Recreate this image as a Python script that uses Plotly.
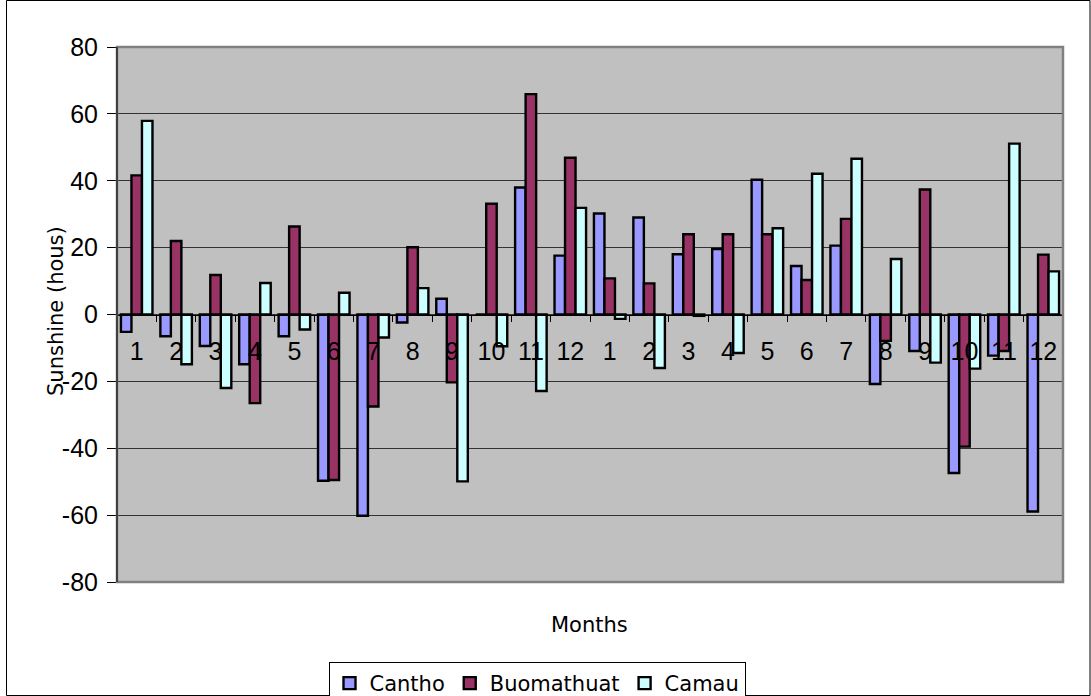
import plotly.graph_objects as go

months = [str(m) for m in range(1, 13)] * 2
x_pos = list(range(1, 25))
cantho = [-5.2, -6.5, -9.4, -14.9, -6.5, -49.7, -60.2, -2.4, 4.7, 0.0, 38.0, 17.6,
          30.2, 29.0, 18.0, 19.6, 40.3, 14.5, 20.6, -20.8, -10.9, -47.4, -12.3, -58.9]
buomathuat = [41.6, 22.0, 11.8, -26.5, 26.3, -49.5, -27.5, 20.1, -20.3, 33.1, 65.9, 46.9,
              10.8, 9.3, 24.0, 24.0, 24.0, 10.3, 28.6, -7.9, 37.4, -39.5, -10.9, 17.9]
camau = [57.9, -14.9, -22.0, 9.4, -4.5, 6.5, -6.9, 7.9, -49.9, -9.5, -22.9, 31.9,
         -1.3, -16.0, -0.4, -11.5, 25.8, 42.1, 46.6, 16.6, -14.4, -16.2, 51.1, 12.9]
y_ticks = [-80, -60, -40, -20, 0, 20, 40, 60, 80]
y_tick_text = ["-80", "-60", "-40", "-20", "0", "20", "40", "60", "80"]
series = [("Cantho", cantho, "#9999FF"), ("Buomathuat", buomathuat, "#993366"), ("Camau", camau, "#CCFFFF")]

TICKFONT = dict(family="Liberation Sans, Arial", size=25, color="black")
TEXTFONT = dict(family="DejaVu Sans", size=21, color="black")

fig = go.Figure()
for name, vals, col in series:
    fig.add_trace(go.Bar(x=x_pos, y=vals, name=name,
                         marker=dict(color=col, line=dict(color="black", width=2.4))))
# helper trace carrying the category-label axis
fig.add_trace(go.Scatter(x=x_pos, y=[0] * len(x_pos), xaxis="x2", mode="none",
                         showlegend=False, hoverinfo="skip"))

boundaries = [i + 0.5 for i in range(0, 25)]
L, R, T, B = 117, 1063, 47, 582
W, H = 1091, 696
pw, ph = R - L, B - T

fig.update_layout(
    width=W, height=H,
    margin=dict(l=L, r=W - R, t=T, b=H - B, autoexpand=False),
    paper_bgcolor="white", plot_bgcolor="#C0C0C0",
    font=TEXTFONT,
    barmode="group", bargap=0.2, bargroupgap=0,
    showlegend=True,
    legend=dict(orientation="h", x=(537 - L) / pw, xanchor="center", y=(B - 662) / ph, yanchor="top",
                bordercolor="black", borderwidth=1, bgcolor="white",
                font=TEXTFONT, itemwidth=30, tracegroupgap=0),
    xaxis=dict(range=[0.5, 24.5], tickvals=boundaries, ticktext=[""] * len(boundaries),
               ticks="outside", ticklen=6, tickcolor="black", showgrid=False,
               zeroline=False, anchor="free", position=0.5, showline=True, linecolor="black", linewidth=1),
    xaxis2=dict(range=[0.5, 24.5], overlaying="x", anchor="free", position=0.5, side="bottom",
                tickvals=x_pos, ticktext=months, ticks="", showgrid=False, zeroline=False,
                showline=False, tickfont=TICKFONT, ticklabelstandoff=19),
    yaxis=dict(range=[-80, 80], tickvals=y_ticks, ticktext=y_tick_text,
               showgrid=True, gridcolor="#333333", gridwidth=1,
               zeroline=False, showline=True, linecolor="black", linewidth=1,
               ticks="outside", ticklen=9, tickcolor="black",
               tickfont=TICKFONT, ticklabelstandoff=4),
    annotations=[
        dict(text="Months", xref="paper", yref="paper", x=(589.5 - L) / pw, y=(B - 625) / ph,
             xanchor="center", yanchor="middle", showarrow=False, font=TEXTFONT),
        dict(text="Sunshine (hous)", xref="paper", yref="paper", x=(56 - L) / pw, y=(B - 311) / ph,
             xanchor="center", yanchor="middle", textangle=-90, showarrow=False, font=TEXTFONT),
    ],
    shapes=[
        dict(type="rect", xref="paper", yref="paper", x0=0, x1=1, y0=0, y1=1,
             line=dict(color="#808080", width=2.5), layer="above"),
        dict(type="line", xref="paper", yref="paper", x0=0, x1=0, y0=0, y1=1,
             line=dict(color="black", width=1), layer="above"),
        dict(type="rect", xref="paper", yref="paper", x0=(6.5 - L) / pw, x1=(1090 - L) / pw,
             y0=(B - 695.5) / ph, y1=(B - 0.5) / ph, line=dict(color="black", width=1)),
    ],
)
fig.write_html("out.html", config={"displayModeBar": False},
               post_script="document.body.style.margin='0';document.body.style.overflow='hidden';")
